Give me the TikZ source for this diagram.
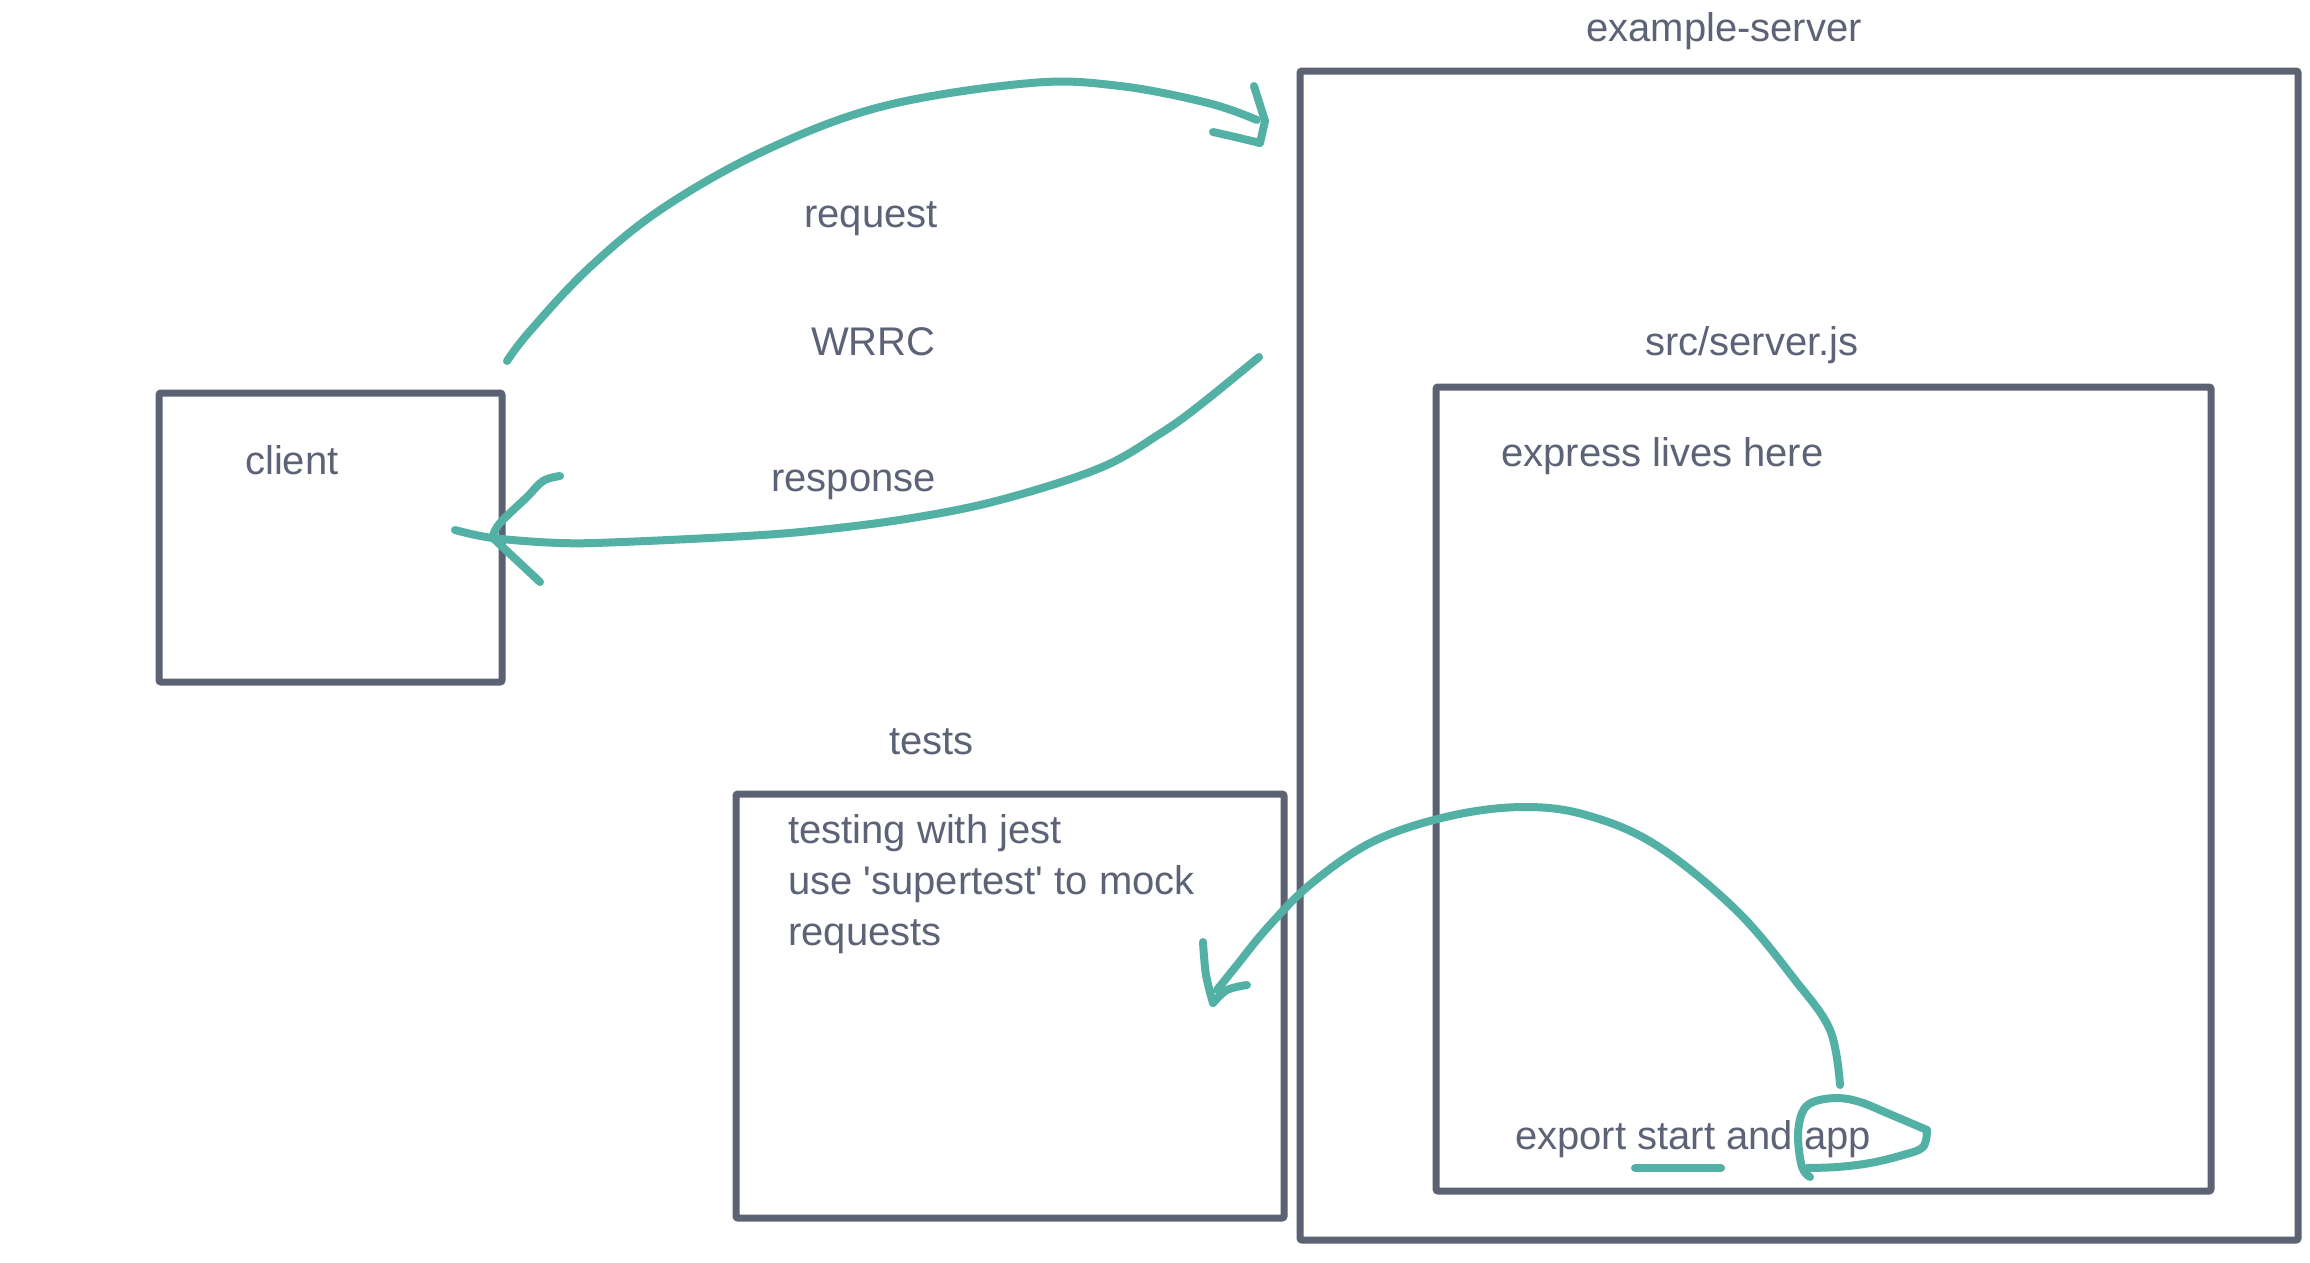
\documentclass[tikz,border=0pt]{standalone}
\usepackage{fontspec}
\setmainfont{Liberation Sans}
\definecolor{boxgray}{HTML}{5B6273}
\definecolor{txtgray}{HTML}{5C6377}
\definecolor{teal2}{HTML}{52B0A4}
\begin{document}
\begin{tikzpicture}[x=1pt,y=-1pt,
  box/.style={draw=boxgray, line width=7pt, rounded corners=2pt, inner sep=0pt},
  lbl/.style={anchor=base west, inner sep=0pt, text=txtgray, font=\fontsize{40}{51}\selectfont},
  pen/.style={draw=teal2, line width=8pt, line cap=round, line join=round}]
\useasboundingbox[fill=white] (0,0) rectangle (2310,1262);

% boxes
\node[box, minimum width=343pt, minimum height=289pt] (client) at (330.5,537.5) {};
\node[box, minimum width=998pt, minimum height=1169pt] (server) at (1799,655.5) {};
\node[box, minimum width=775pt, minimum height=804pt] (src) at (1823.5,789) {};
\node[box, minimum width=548pt, minimum height=424pt] (tests) at (1010,1006) {};

% labels
\node[lbl] (tclient) at (245,474) {client};
\node[lbl] (treq) at (804,227) {request};
\node[lbl] (twrrc) at (811,355) {WRRC};
\node[lbl] (tresp) at (771,491) {response};
\node[lbl] (tserver) at (1586,41) {example-server};
\node[lbl] (tsrc) at (1645,355) {src/server.js};
\node[lbl] (texpress) at (1501,466) {express lives here};
\node[lbl] (ttests) at (889,754) {tests};
\node[lbl] (tjest1) at (788,843) {testing with jest};
\node[lbl] (tjest2) at (788,894) {use \textquotesingle supertest\textquotesingle{} to mock};
\node[lbl] (tjest3) at (788,945) {requests};
\node[lbl] (texport) at (1515,1149) {export start and app};

% request arrow
\coordinate (reqS) at (507,361);
\coordinate (reqE) at (1257,120);
\draw[pen] plot[smooth, tension=0.6] coordinates {(reqS) (530,331) (589,268) (663,208) (766,150) (884,106) (1031,83) (1120,86) (1208,103) (reqE)};
\draw[pen] (1254,86) -- (1265,121) -- (1260,143);
\draw[pen] plot[smooth, tension=0.6] coordinates {(1213,132) (1235,137) (1260,143)};

% response arrow
\coordinate (resS) at (1259,357);
\coordinate (resE) at (455,530);
\draw[pen] plot[smooth, tension=0.6] coordinates {(resS) (1200,405) (1161,433) (1100,468) (1000,500) (912,518) (820,530) (746,536) (622,542) (560,543) (493,538) (resE)};
\draw[pen] plot[smooth, tension=0.6] coordinates {(560,476) (543,481) (527,497) (500,523) (493,536)};
\draw[pen] (493,538) -- (540,582);

% app -> tests arrow
\coordinate (appS) at (1840,1085);
\coordinate (appE) at (1217,990);
\draw[pen] plot[smooth, tension=0.6] coordinates {(appS) (1830,1030) (1795,980) (1736,910) (1656,845) (1586,815) (1523,807) (1450,816) (1374,841) (1312,883) (1268,927) (1237,965) (appE)};
\draw[pen] plot[smooth, tension=0.6] coordinates {(1203,942) (1206,975) (1213,1003)};
\draw[pen] plot[smooth, tension=0.6] coordinates {(1213,1003) (1227,990) (1247,985)};

% loop around app
\draw[pen] plot[smooth, tension=0.6] coordinates {(1810,1177) (1802,1167) (1798,1137) (1802,1113) (1813,1102) (1837,1098) (1860,1102) (1887,1113) (1927,1130)};
\draw[pen] plot[smooth, tension=0.6] coordinates {(1927,1130) (1923,1147) (1903,1155) (1870,1163) (1837,1167) (1807,1168)};

% underline of start
\draw[pen] (1635,1168) -- (1721,1168);
\end{tikzpicture}
\end{document}
